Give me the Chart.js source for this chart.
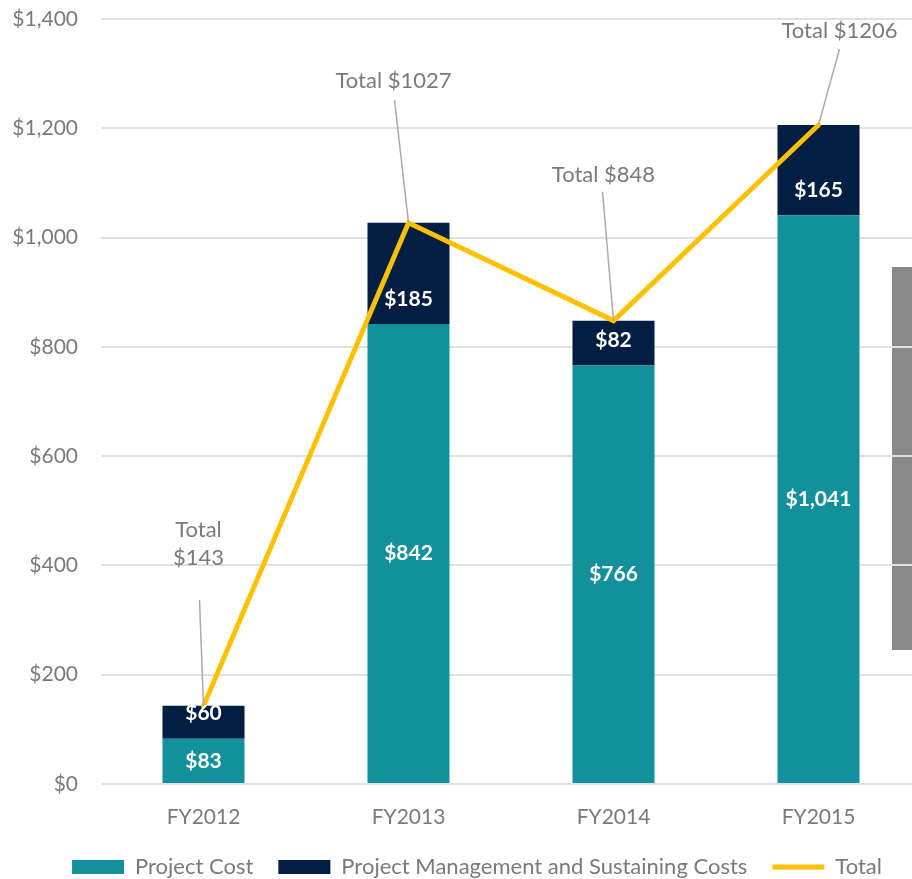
<!DOCTYPE html>
<html>
<head>
<meta charset="utf-8">
<script src="https://cdn.jsdelivr.net/npm/chart.js@4"></script>
<style>
  html, body { margin: 0; padding: 0; background: #ffffff; }
  #wrap { position: relative; width: 912px; height: 879px; overflow: hidden; }
  #side { position: absolute; left: 892px; top: 267px; width: 20px; height: 383px; background: #898989; z-index: 0; }
  #c { position: absolute; left: 0; top: 0; z-index: 1; }
</style>
</head>
<body>
<div id="wrap">
  <div id="side"></div>
  <canvas id="c" width="954" height="888"></canvas>
</div>
<script>
// ---- data ----
const categories = ["FY2012", "FY2013", "FY2014", "FY2015"];
const projectCost = [83, 842, 766, 1041];
const pmSustaining = [60, 185, 82, 165];
const totals = [143, 1027, 848, 1206];
const totalLabels = [["Total", "$143"], ["Total $1027"], ["Total $848"], ["Total $1206"]];
const yTicks = [0, 200, 400, 600, 800, 1000, 1200, 1400];
const seriesNames = ["Project Cost", "Project Management and Sustaining Costs", "Total"];

// ---- styles ----
const TEAL = "#12909C";
const NAVY = "#021E42";
const GOLD = "#FFC000";
const TEXT = "#7a7a7a";
const FONT = "Lato, 'Open Sans', sans-serif";
// label placement relative to each total point (text center, leader start)
const totalLabelOffsets = [
  { tx: -5, ty: -176, lx: -4, ly: -106 },
  { tx: -15, ty: -142, lx: -14, ly: -123 },
  { tx: -10, ty: -146, lx: -11, ly: -129 },
  { tx: 21, ty: -94, lx: 21, ly: -76 }
];

const fmt = v => "$" + v.toLocaleString("en-US");

const labelPlugin = {
  id: "labels",
  afterLayout(chart) {
    // centre the legend on the full (original) chart width
    const lg = chart.legend;
    if (lg) { lg.left += 16.5; lg.right += 16.5; }
  },
  afterDatasetsDraw(chart) {
    const ctx = chart.ctx;
    ctx.save();
    ctx.textAlign = "center";
    ctx.textBaseline = "middle";
    ctx.font = "bold 21px " + FONT;
    ctx.fillStyle = "#ffffff";
    chart.getDatasetMeta(0).data.forEach((bar, i) => {
      ctx.fillText(fmt(projectCost[i]), bar.x, (bar.y + bar.base) / 2);
    });
    chart.getDatasetMeta(1).data.forEach((bar, i) => {
      ctx.fillText(fmt(pmSustaining[i]), bar.x, bar.base - 25);
    });
    // total labels with leader lines
    ctx.font = "22px " + FONT;
    ctx.fillStyle = TEXT;
    ctx.strokeStyle = "#ababab";
    ctx.lineWidth = 1.5;
    chart.getDatasetMeta(2).data.forEach((pt, i) => {
      const o = totalLabelOffsets[i];
      ctx.beginPath();
      ctx.moveTo(pt.x + o.lx, pt.y + o.ly);
      ctx.lineTo(pt.x, pt.y);
      ctx.stroke();
      const lines = totalLabels[i];
      lines.forEach((t, k) => {
        ctx.fillText(t, pt.x + o.tx, pt.y + o.ty + k * 28);
      });
    });
    ctx.restore();
  }
};

new Chart(document.getElementById("c"), {
  data: {
    labels: categories,
    datasets: [
      { type: "bar", label: seriesNames[0], data: projectCost, backgroundColor: TEAL, stack: "s", order: 2,
        categoryPercentage: 1, barPercentage: 0.4 },
      { type: "bar", label: seriesNames[1], data: pmSustaining, backgroundColor: NAVY, stack: "s", order: 2,
        categoryPercentage: 1, barPercentage: 0.4 },
      { type: "line", label: seriesNames[2], data: totals, borderColor: GOLD, backgroundColor: GOLD,
        borderWidth: 5, pointRadius: 0, pointHoverRadius: 0, tension: 0, stack: "t", order: 0,
        borderCapStyle: "round" }
    ]
  },
  options: {
    responsive: false,
    animation: false,
    devicePixelRatio: 1,
    layout: { padding: { left: 0, right: 33, top: 19, bottom: 0 } },
    plugins: {
      tooltip: { enabled: false },
      legend: {
        position: "bottom",
        labels: {
          usePointStyle: true,
          pointStyleWidth: 52,
          boxWidth: 52,
          boxHeight: 14,
          padding: 25,
          color: TEXT,
          font: { family: FONT, size: 22 },
          generateLabels(chart) {
            return chart.data.datasets.map((ds, i) => ({
              text: ds.label,
              datasetIndex: i,
              fillStyle: ds.type === "line" ? GOLD : ds.backgroundColor,
              strokeStyle: ds.type === "line" ? GOLD : ds.backgroundColor,
              lineWidth: ds.type === "line" ? 5 : 0,
              pointStyle: ds.type === "line" ? "line" : "rect",
              fontColor: TEXT,
              hidden: false
            }));
          }
        }
      }
    },
    scales: {
      x: {
        stacked: true,
        grid: { display: false, drawTicks: false },
        border: { display: false },
        ticks: { color: TEXT, font: { family: FONT, size: 21 }, padding: 21 },
        afterFit(scale) { scale.height = 47; }
      },
      y: {
        stacked: true,
        min: 0,
        max: 1400,
        afterBuildTicks(scale) { scale.ticks = yTicks.map(v => ({ value: v })); },
        grid: { color: "#e0e0e0", lineWidth: 2, drawTicks: false },
        border: { display: false },
        ticks: { color: TEXT, font: { family: FONT, size: 21 }, padding: 23, callback: v => fmt(v) },
        afterFit(scale) { scale.width = 101; scale.paddingTop = 0; scale.paddingBottom = 0; }
      }
    }
  },
  plugins: [labelPlugin]
});
</script>
</body>
</html>
